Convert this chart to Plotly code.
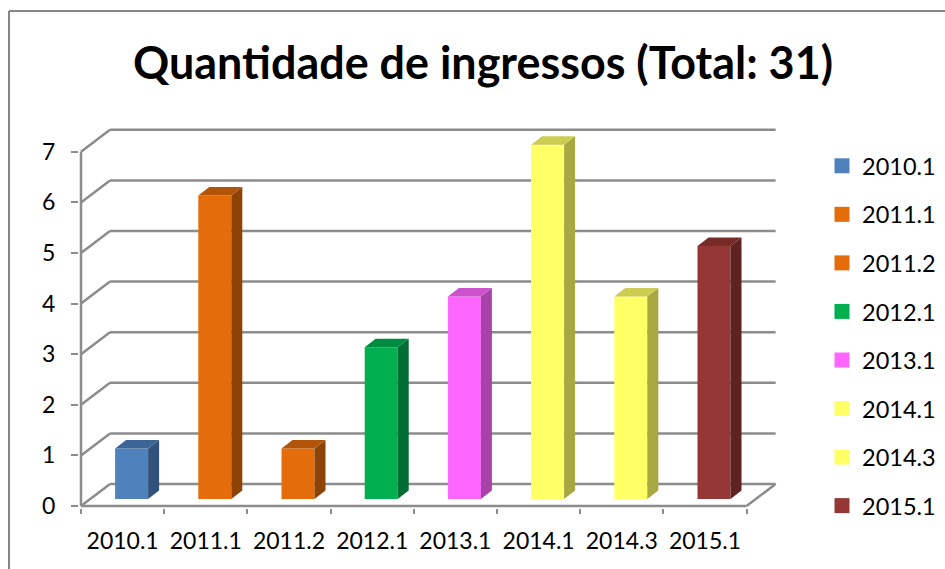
import plotly.graph_objects as go

# Data
categories = ["2010.1", "2011.1", "2011.2", "2012.1", "2013.1", "2014.1", "2014.3", "2015.1"]
values = [1, 6, 1, 3, 4, 7, 4, 5]
y_ticks = [0, 1, 2, 3, 4, 5, 6, 7]
front_colors = ["#4F81BD", "#E46C0A", "#E46C0A", "#00B050", "#FF66FF", "#FFFF66", "#FFFF66", "#953735"]
side_colors = ["#31527A", "#8D4306", "#8D4306", "#006E32", "#A842A8", "#A8A842", "#A8A842", "#5E2221"]
top_colors = ["#3D6496", "#B25508", "#B25508", "#008C40", "#CC52CC", "#CCCC52", "#CCCC52", "#772C2A"]
title_text = "Quantidade de ingressos (Total: 31)"

W, H = 945, 569
PX_X0, PX_Y0 = 81, 506      # pixel of the front-left floor corner
SX, SY = 83.2, 50.6         # pixels per category / per unit
PLOT_L, PLOT_R, PLOT_T, PLOT_B = 79, 790, 118, 508

WALL_DX, WALL_DY = 29 / SX, 22 / SY       # depth of the chart box
BAR_W = 33 / SX
BAR_SHIFT = 9 / SX
BAR_BASE = 7 / SY
BAR_DX, BAR_DY = 11 / SX, 8.5 / SY
GRAY = "#8C8C8C"

fig = go.Figure()

for i, (cat, val) in enumerate(zip(categories, values)):
    xc = i + 0.5 + BAR_SHIFT
    left, right = xc - BAR_W / 2, xc + BAR_W / 2
    top = BAR_BASE + val
    fig.add_trace(go.Bar(x=[xc], y=[val], base=BAR_BASE, width=BAR_W, name=cat,
                         marker=dict(color=front_colors[i], line=dict(width=0)),
                         legendgroup=cat, showlegend=False, hoverinfo="x+y"))
    # side face
    fig.add_trace(go.Scatter(
        x=[right, right + BAR_DX, right + BAR_DX, right, right],
        y=[BAR_BASE, BAR_BASE + BAR_DY, top + BAR_DY, top, BAR_BASE],
        mode="lines", fill="toself", fillcolor=side_colors[i], line=dict(width=0),
        legendgroup=cat, showlegend=False, hoverinfo="skip"))
    # top face
    fig.add_trace(go.Scatter(
        x=[left, left + BAR_DX, right + BAR_DX, right, left],
        y=[top, top + BAR_DY, top + BAR_DY, top, top],
        mode="lines", fill="toself", fillcolor=top_colors[i], line=dict(width=0),
        legendgroup=cat, showlegend=False, hoverinfo="skip"))
    # legend entry
    fig.add_trace(go.Scatter(x=[None], y=[None], mode="markers", name=cat, legendgroup=cat,
                             marker=dict(symbol="square", size=15, color=front_colors[i])))

n = len(categories)
line = dict(color=GRAY, width=2.5)
shapes = []
def seg(x0, y0, x1, y1):
    shapes.append(dict(type="line", xref="x", yref="y", x0=x0, y0=y0, x1=x1, y1=y1,
                       line=line, layer="below"))

for v in y_ticks:
    seg(0, v, WALL_DX, v + WALL_DY)
    seg(WALL_DX, v + WALL_DY, n + WALL_DX, v + WALL_DY)
seg(0, 0, 0, max(y_ticks))
seg(0, 0, n, 0)
seg(n, 0, n + WALL_DX, WALL_DY)

# outer chart frame (left and top edges), in paper fractions of the plot area
pw, ph = PLOT_R - PLOT_L, PLOT_B - PLOT_T
fx = (9 - PLOT_L) / pw
fy_top = (PLOT_B - 11) / ph
fy_bot = (PLOT_B - H) / ph
fx_r = (W - PLOT_L) / pw
frame = dict(color="#868686", width=2)
shapes.append(dict(type="line", xref="paper", yref="paper", x0=fx, x1=fx, y0=fy_bot, y1=fy_top, line=frame))
shapes.append(dict(type="line", xref="paper", yref="paper", x0=fx, x1=fx_r, y0=fy_top, y1=fy_top, line=frame))

font = "Lato, 'Open Sans', sans-serif"
fig.update_layout(
    width=W, height=H, autosize=False,
    paper_bgcolor="white", plot_bgcolor="white",
    margin=dict(l=PLOT_L, r=W - PLOT_R, t=PLOT_T, b=H - PLOT_B, pad=0),
    font=dict(family=font, size=23, color="black"),
    title=dict(text="<b>" + title_text + "</b>", x=483 / W, xref="container", xanchor="center",
               y=1 - 63 / H, yref="container", yanchor="middle",
               font=dict(family=font, size=44.9, color="black")),
    barmode="overlay",
    shapes=shapes,
    showlegend=True,
    legend=dict(xref="container", yref="container", x=822 / W, y=1 - 144 / H,
                xanchor="left", yanchor="top", tracegroupgap=15,
                bgcolor="rgba(0,0,0,0)", font=dict(family=font, size=23.5, color="black"),
                itemclick=False, itemdoubleclick=False, maxheight=460),
    xaxis=dict(range=[(PLOT_L - PX_X0) / SX, (PLOT_R - PX_X0) / SX], showgrid=False, zeroline=False,
               showline=False, tickmode="array", tickvals=[i + 0.5 for i in range(n)],
               ticktext=categories, ticks="", ticklen=0, ticklabelstandoff=17,
               minor=dict(tick0=0, dtick=1, ticks="outside", ticklen=5, tickwidth=2,
                          tickcolor=GRAY, showgrid=False)),
    yaxis=dict(range=[(PX_Y0 - PLOT_B) / SY, (PX_Y0 - PLOT_T) / SY], showgrid=False, zeroline=False,
               showline=False, tickmode="array", tickvals=y_ticks, ticks="outside", ticklen=7,
               tickwidth=2, tickcolor=GRAY, ticklabelstandoff=11),
)

fig.write_html("out.html", config={"displayModeBar": False},
               post_script="document.body.style.margin='0';document.body.style.overflow='hidden';")
